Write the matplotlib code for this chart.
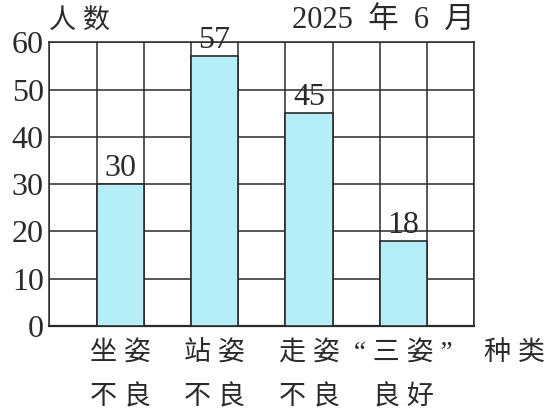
import matplotlib
matplotlib.use('Agg')
import matplotlib.pyplot as plt
from matplotlib.ticker import FixedLocator, NullFormatter

# data
categories = ['坐 姿\n不 良', '站 姿\n不 良', '走 姿\n不 良', '“ 三 姿 ”\n良 好']
counts = [30, 57, 45, 18]
bar_pos = [1.5, 3.5, 5.5, 7.5]
y_ticks = [0, 10, 20, 30, 40, 50, 60]

plt.rcParams['font.family'] = ['Liberation Serif', 'Noto Sans CJK SC', 'DejaVu Sans']
ink = '#2a2a2a'

fig = plt.figure(figsize=(5.57, 4.18), dpi=100)
ax = fig.add_axes([0.0885, 0.22, 0.763, 0.679])

ax.bar(bar_pos, counts, width=1.0, color='#b5eef7', edgecolor=ink,
       linewidth=1.2, zorder=3)
for x, v in zip(bar_pos, counts):
    ax.annotate(str(v), (x, v), xytext=(0, 1), textcoords='offset points',
                ha='center', va='bottom', fontsize=23, color=ink, zorder=4)

ax.set_xlim(0, 9)
ax.set_ylim(0, 60)
ax.xaxis.set_major_locator(FixedLocator(range(10)))
ax.xaxis.set_major_formatter(NullFormatter())
ax.xaxis.set_minor_locator(FixedLocator(bar_pos))
ax.set_xticklabels(categories, minor=True, fontsize=19.5, color=ink, linespacing=1.95)
ax.set_yticks(y_ticks)
ax.set_yticklabels([str(t) for t in y_ticks], fontsize=23, color=ink)
ax.tick_params(axis='x', which='both', length=0, pad=11)
ax.tick_params(axis='y', length=0, pad=4)
ax.grid(True, color=ink, linewidth=1.1, zorder=0)
ax.set_axisbelow(True)
for s in ax.spines.values():
    s.set_color(ink)
    s.set_linewidth(1.1)
ax.spines['bottom'].set_linewidth(1.6)

ax.text(0.0, 1.025, '人 数', transform=ax.transAxes, ha='left', va='bottom',
        fontsize=19.5, color=ink)
ax.text(1.0, 1.025, '2025  年  6  月', transform=ax.transAxes, ha='right', va='bottom',
        fontsize=22, color=ink)
ax.text(1.095, -0.095, '种 类', transform=ax.transAxes, ha='center', va='center',
        fontsize=19.5, color=ink)

fig.savefig('out.png', dpi=100)
